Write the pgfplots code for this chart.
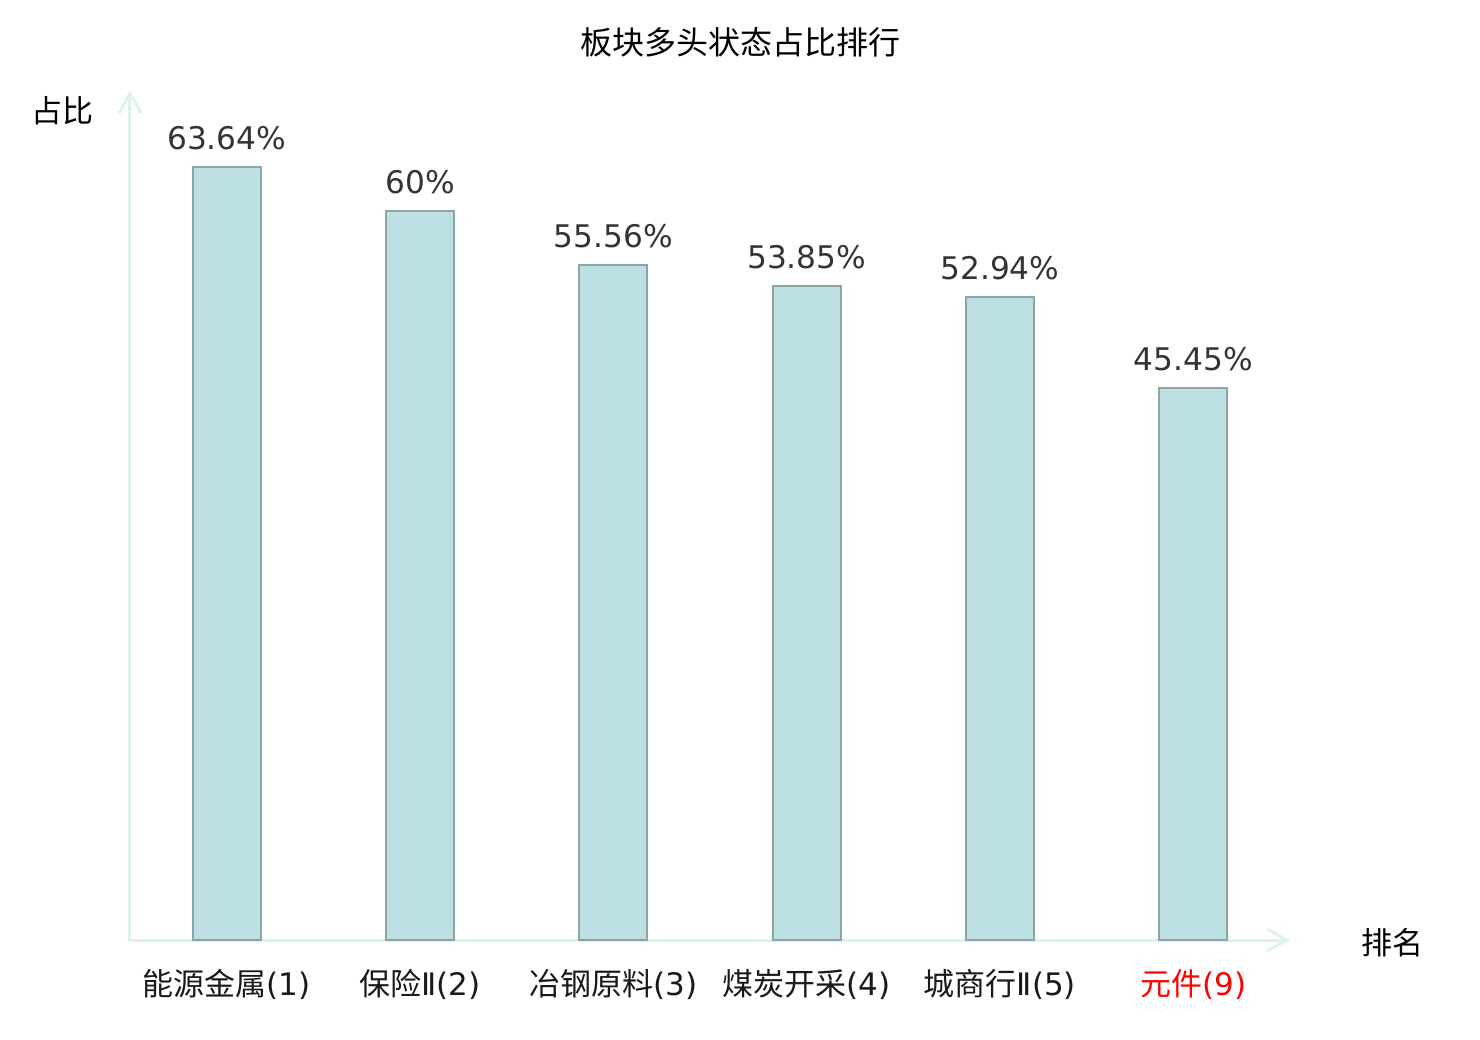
\documentclass[border=0pt]{standalone}
\usepackage{pgfplots}
\pgfplotsset{compat=1.18}
\usepackage{fontspec}
\setmainfont{DejaVu Sans}
\newfontfamily\cjk{Noto Sans CJK SC}
\usetikzlibrary{arrows.meta}
\definecolor{barfill}{RGB}{188,224,227}
\definecolor{baredge}{RGB}{140,166,167}
\definecolor{axiscol}{RGB}{221,241,238}
\definecolor{valcol}{RGB}{51,51,51}
\begin{document}
\begin{tikzpicture}
\path[use as bounding box] (-65pt,-50pt) rectangle (675pt,470pt);
\begin{axis}[
  scale only axis, width=580pt, height=425pt,
  xmin=-0.5, xmax=5.5, ymin=0, ymax=70,
  axis lines=left,
  axis line style={draw=axiscol, line width=1.5pt, line cap=round, -{Straight Barb[length=10pt,width=11pt,line width=1.5pt]}},
  ytick=\empty,
  xtick=data,
  major tick length=0pt,
  xticklabels={{{\cjk 能源金属}(1)}, {{\cjk 保险}Ⅱ(2)}, {{\cjk 冶钢原料}(3)}, {{\cjk 煤炭开采}(4)}, {{\cjk 城商行}Ⅱ(5)}, {\color{red}{\cjk 元件}(9)}},
  xticklabel style={font=\fontsize{15.5pt}{18pt}\selectfont, text=black!90, inner sep=0pt, anchor=north, yshift=-14.5pt},
  ybar, bar width=34pt,
  point meta=explicit symbolic,
  nodes near coords,
  nodes near coords style={font=\fontsize{15.6pt}{18pt}\selectfont, text=valcol, anchor=south, inner sep=0pt, yshift=8pt},
  title={板块多头状态占比排行},
  title style={font=\cjk\fontsize{16pt}{18pt}\selectfont, at={(axis description cs:0.526,1.0424)}, anchor=center},
  xlabel={排名},
  xlabel style={font=\cjk\fontsize{15.5pt}{18pt}\selectfont, at={(axis description cs:1.088,-0.003)}, anchor=center},
  ylabel={占比},
  ylabel style={font=\cjk\fontsize{15.5pt}{18pt}\selectfont, rotate=-90, at={(axis description cs:-0.0578,0.976)}, anchor=center},
  clip=false,
]
\addplot[fill=barfill, draw=baredge, line width=1pt] coordinates {
  (0,63.64) [63.64\%]
  (1,60) [60\%]
  (2,55.56) [55.56\%]
  (3,53.85) [53.85\%]
  (4,52.94) [52.94\%]
  (5,45.45) [45.45\%]
};
\end{axis}
\end{tikzpicture}
\end{document}
